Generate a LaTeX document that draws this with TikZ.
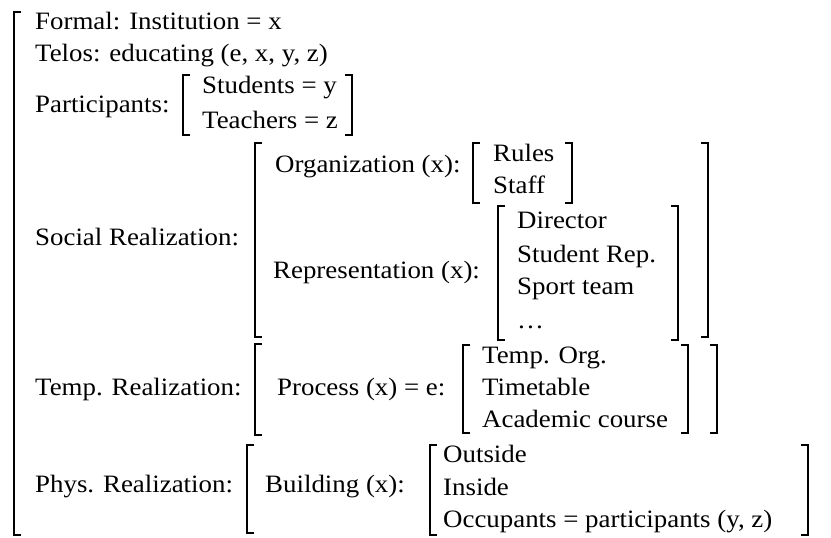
\documentclass[tikz,border=0pt]{standalone}
\usepackage{fontspec}
\setmainfont{Liberation Serif}[FakeStretch=1.075]
\usepackage{tikz}

\tikzset{
  lbl/.style={anchor=base west, inner sep=0pt, font=\fontsize{25}{30}\selectfont},
  brak/.style={line width=1.6pt, line join=miter}
}
% left and right bracket: x, top, bottom
\newcommand{\lbrak}[3]{\draw[brak] (#1+7,#2) -- (#1,#2) -- (#1,#3) -- (#1+7,#3);}
\newcommand{\rbrak}[3]{\draw[brak] (#1-7,#2) -- (#1,#2) -- (#1,#3) -- (#1-7,#3);}

\begin{document}
\begin{tikzpicture}[x=1pt, y=-1pt]
           \useasboundingbox (0,0) rectangle (831,538);
           \lbrak{14}{12}{535}
           \node[lbl] (formal) at (35,29) {Formal: Institution = x};
           \node[lbl] (telos) at (35,61) {Telos: educating (e, x, y, z)};
           % participants
           \node[lbl] (part) at (35,112) {Participants:};
           \lbrak{183}{75}{135}
           \node[lbl] (stud) at (202,93) {Students = y};
           \node[lbl] (teach) at (202,128) {Teachers = z};
           \rbrak{352}{75}{135}
           % social realization
           \node[lbl] (social) at (35,245) {Social Realization:};
           \lbrak{255}{143}{337}
           \node[lbl] (org) at (275,172) {Organization (x):};
           \lbrak{473}{143}{203}
           \node[lbl] (rules) at (493,161) {Rules};
           \node[lbl] (staff) at (493,193) {Staff};
           \rbrak{572}{143}{203}
           \node[lbl] (repr) at (273,278) {Representation (x):};
           \lbrak{498}{206}{340}
           \node[lbl] (dir) at (517,228) {Director};
           \node[lbl] (srep) at (517,262) {Student Rep.};
           \node[lbl] (sport) at (517,294) {Sport team};
           \node[lbl] (dots) at (517,328) {\ldots};
           \rbrak{678}{206}{340}
           \rbrak{708}{143}{337}
           % temporal realization
           \node[lbl] (temp) at (35,395) {Temp. Realization:};
           \lbrak{255}{344}{435}
           \node[lbl] (proc) at (277,395) {Process (x) = e:};
           \lbrak{463}{345}{433}
           \node[lbl] (torg) at (482,363) {Temp. Org.};
           \node[lbl] (ttable) at (482,395) {Timetable};
           \node[lbl] (acad) at (482,427) {Academic course};
           \rbrak{688}{345}{433}
           \rbrak{717}{345}{433}
           % physical realization
           \node[lbl] (phys) at (35,492) {Phys. Realization:};
           \lbrak{247}{445}{533}
           \node[lbl] (build) at (265,492) {Building (x):};
           \lbrak{430}{445}{535}
           \node[lbl] (outs) at (443,462) {Outside};
           \node[lbl] (ins) at (443,495) {Inside};
           \node[lbl] (occ) at (443,527) {Occupants = participants (y, z)};
           \rbrak{808}{445}{535}
         \end{tikzpicture}
\end{document}
